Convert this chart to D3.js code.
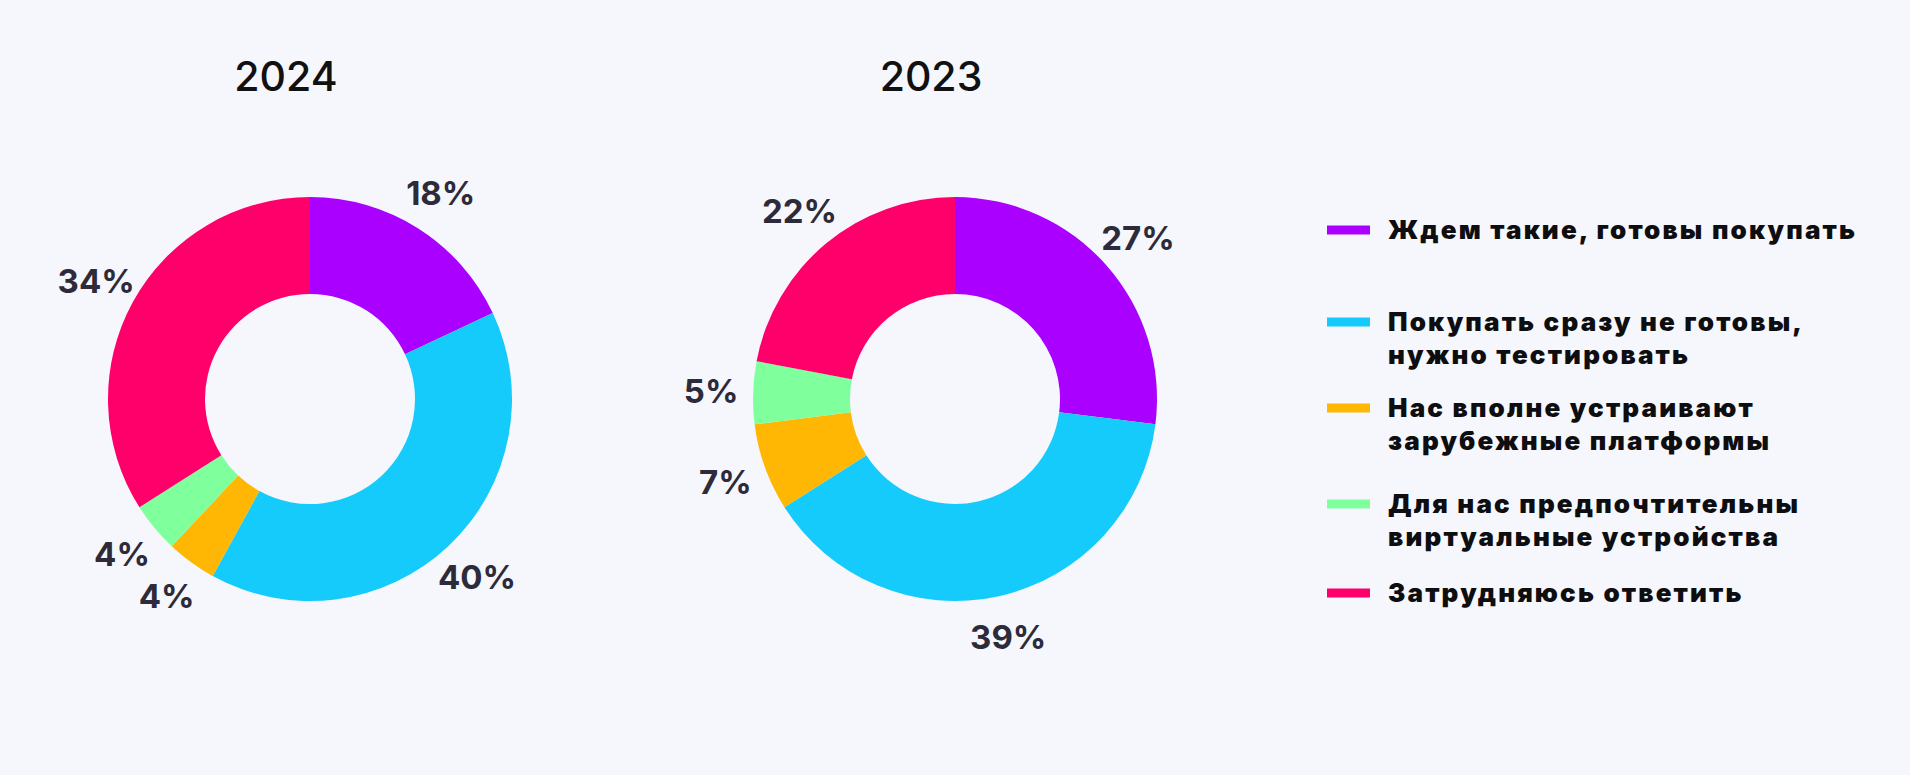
<!DOCTYPE html>
<html><head><meta charset="utf-8">
<script src="https://cdn.jsdelivr.net/npm/d3@7"></script>
<style>html,body{margin:0;padding:0;background:#F5F7FC;} svg{display:block}</style>
</head><body><svg id="c" width="1910" height="775"></svg>
<script>
const categories = [
  "Ждем такие, готовы покупать",
  "Покупать сразу не готовы, нужно тестировать",
  "Нас вполне устраивают зарубежные платформы",
  "Для нас предпочтительны виртуальные устройства",
  "Затрудняюсь ответить"
];
const legendLines = [
  ["Ждем такие, готовы покупать"],
  ["Покупать сразу не готовы,", "нужно тестировать"],
  ["Нас вполне устраивают", "зарубежные платформы"],
  ["Для нас предпочтительны", "виртуальные устройства"],
  ["Затрудняюсь ответить"]
];
const years = ["2024", "2023"];
const values2024 = [18, 40, 4, 4, 34];
const values2023 = [27, 39, 7, 5, 22];
const colors = ["#AA00FF", "#14CBFB", "#FFB703", "#80FF9D", "#FF006B"];

// layout
const W = 1910, H = 775;
const centers = [{x: 310, y: 399}, {x: 955, y: 399}];
const rOuter = 202, rInner = 105, rLabel = 244;
const legendX = 1327, legendTextX = 1388, legendTextWidth = 467;
const legendBaselines = [239, 331, 417, 513, 602];
const lineH = 33;

const svg = d3.select("#c");
svg.append("rect").attr("width", W).attr("height", H).attr("fill", "#F5F7FC");

const pie = d3.pie().sort(null).value(d => d);
const arc = d3.arc().innerRadius(rInner).outerRadius(rOuter);
const labelArc = d3.arc().innerRadius(rLabel).outerRadius(rLabel);

[values2024, values2023].forEach((vals, i) => {
  const c = centers[i];
  const g = svg.append("g").attr("transform", `translate(${c.x},${c.y})`);
  const arcs = pie(vals);
  g.selectAll("path").data(arcs).join("path")
    .attr("d", arc)
    .attr("fill", (d, j) => colors[j]);
  g.selectAll("text.lbl").data(arcs).join("text")
    .attr("class", "lbl")
    .attr("transform", d => `translate(${labelArc.centroid(d)})`)
    .attr("text-anchor", "middle")
    .attr("dy", "0.36em")
    .attr("font-family", "Inter, 'Open Sans', sans-serif")
    .attr("font-weight", 700)
    .attr("font-size", 33)
    .attr("fill", "#2D2A3A")
    .text(d => d.data + "%");
  svg.append("text")
    .attr("x", c.x - 24).attr("y", 91)
    .attr("text-anchor", "middle")
    .attr("font-family", "Inter, 'Open Sans', sans-serif")
    .attr("font-weight", 500)
    .attr("font-size", 41)
    .attr("fill", "#111111")
    .text(years[i]);
});

const lg = svg.append("g");
const texts = [];
legendLines.forEach((lines, i) => {
  const by = legendBaselines[i];
  lg.append("rect")
    .attr("x", legendX).attr("y", by - 13.5)
    .attr("width", 43).attr("height", 9)
    .attr("fill", colors[i]);
  const t = lg.append("text")
    .attr("x", legendTextX).attr("y", by)
    .attr("font-family", "Inter, 'Open Sans', sans-serif")
    .attr("font-weight", 900)
    .attr("font-size", 26)
    .attr("fill", "#0E0E10");
  lines.forEach((ln, k) => {
    t.append("tspan").attr("x", legendTextX).attr("y", by + k * lineH).text(ln);
  });
  texts.push(t);
});
// fit letter-spacing so the first legend line spans its width in the reference
const first = texts[0].select("tspan").node();
const natural = first.getComputedTextLength();
const n = legendLines[0][0].length;
const ls = Math.max(0, (legendTextWidth - natural) / (n - 1));
texts.forEach(t => t.attr("letter-spacing", ls));
</script>
</body></html>
